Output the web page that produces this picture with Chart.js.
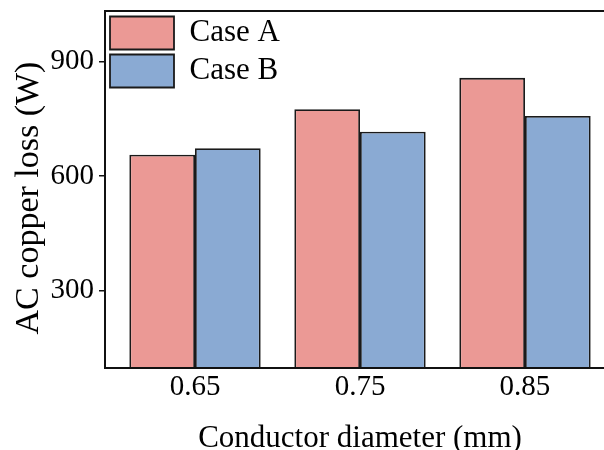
<!DOCTYPE html>
<html><head><meta charset="utf-8">
<script src="https://cdn.jsdelivr.net/npm/chart.js@4"></script>
<style>
html,body{margin:0;padding:0;overflow:hidden;background:#fff;width:604px;height:450px}
#wrap{width:620px;height:456px;position:relative}
</style></head>
<body><div id="wrap"><canvas id="c" width="620" height="456"></canvas></div>
<script>
const categories = ['0.65', '0.75', '0.85'];
const caseA = [656, 775, 857];
const caseB = [673, 716, 757];
const seriesNames = ['Case A', 'Case B'];
const yTicks = [300, 600, 900];
const xTitle = 'Conductor diameter (mm)';
const yTitle = 'AC copper loss (W)  ';

const SERIF = "'Liberation Serif', 'Times New Roman', serif";

const framePlugin = {
  id: 'frame',
  afterDatasetsDraw(chart) {
    const {ctx, chartArea: a} = chart;
    ctx.save();
    ctx.strokeStyle = '#111';
    ctx.lineWidth = 2;
    ctx.strokeRect(a.left, a.top, a.right - a.left, a.bottom - a.top);
    ctx.restore();
  }
};

const toPoints = arr => arr.map((v, i) => ({x: i + 1, y: v}));

new Chart(document.getElementById('c'), {
  type: 'bar',
  data: {
    datasets: [
      {label: seriesNames[0], data: toPoints(caseA), backgroundColor: '#EB9995', borderColor: '#1a1a1a', borderWidth: 1.8, borderSkipped: false, categoryPercentage: 0.796, barPercentage: 1},
      {label: seriesNames[1], data: toPoints(caseB), backgroundColor: '#8AAAD3', borderColor: '#1a1a1a', borderWidth: 1.8, borderSkipped: false, categoryPercentage: 0.796, barPercentage: 1}
    ]
  },
  options: {
    responsive: false,
    animation: false,
    layout: {padding: {top: 11, right: 5, left: 0, bottom: 0}},
    plugins: {
      tooltip: {enabled: false},
      legend: {
        position: 'chartArea',
        align: 'start',
        title: {display: true, text: '', font: {size: 1, lineHeight: 1}, padding: {top: 0, bottom: 10.5}},
        labels: {
          boxWidth: 64, boxHeight: 33, padding: 5,
          color: '#000',
          font: {family: SERIF, size: 31}
        }
      }
    },
    scales: {
      x: {
        type: 'linear',
        offset: false,
        min: 0.4545, max: 3.5455,
        afterBuildTicks: s => { s.ticks = categories.map((c, i) => ({value: i + 1})); },
        afterFit: s => { s.height = 88; s.paddingLeft = 0; s.paddingRight = 0; },
        grid: {display: false, drawTicks: false, offset: false},
        border: {display: false},
        ticks: {
          padding: 2,
          color: '#000',
          font: {family: SERIF, size: 29},
          callback: v => categories[Math.round(v) - 1] ?? ''
        },
        title: {display: true, text: xTitle, color: '#000', font: {family: SERIF, size: 31, lineHeight: 1}, padding: {top: 0, bottom: 2}}
      },
      y: {
        min: 97.5, max: 1032,
        afterBuildTicks: s => { s.ticks = yTicks.map(v => ({value: v})); },
        afterFit: s => { s.width = 105; s.paddingTop = 0; s.paddingBottom = 0; },
        grid: {drawOnChartArea: false, drawTicks: true, tickLength: 6, color: '#111', lineWidth: 1.5},
        border: {display: false},
        ticks: {padding: 5, color: '#000', font: {family: SERIF, size: 29}},
        title: {display: true, text: yTitle, color: '#000', font: {family: SERIF, size: 34, lineHeight: 1}, padding: {top: 12, bottom: 0}}
      }
    }
  },
  plugins: [framePlugin]
});
</script>
</body></html>
